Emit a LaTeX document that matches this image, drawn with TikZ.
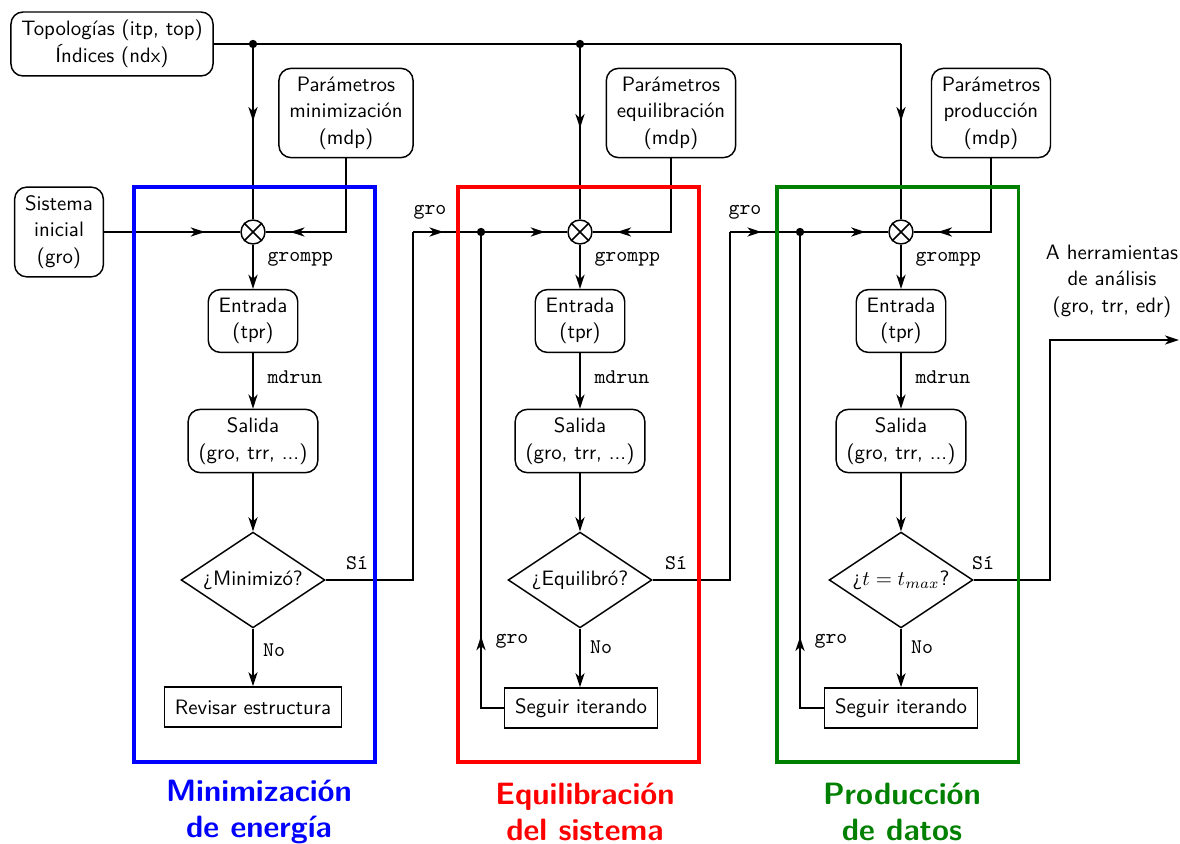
\documentclass[tikz,border=0pt]{standalone}
\usepackage{fontspec}
\usetikzlibrary{shapes.geometric,arrows.meta,decorations.markings}
\renewcommand{\familydefault}{\sfdefault}
\definecolor{dgreen}{RGB}{0,128,0}
\tikzset{
  tip/.tip={Stealth[length=6.8pt,width=4.4pt,inset=2pt]},
  conn/.style={line width=0.7pt},
  rbox/.style={draw,line width=0.7pt,rounded corners=5.8pt,align=center,inner xsep=5pt,inner ysep=4pt},
  sbox/.style={draw,line width=0.7pt,rectangle,inner xsep=5pt,minimum height=19.2pt},
  sumx/.style={draw,line width=0.7pt,circle,minimum size=11.5pt,inner sep=0pt},
  dec/.style={draw,line width=0.7pt,diamond,aspect=1.5,minimum width=69pt,minimum height=46pt,inner sep=0pt},
  lbl/.style={font=\ttfamily,inner sep=1pt},
  frame/.style={line width=1.45pt},
  ttl/.style={font=\bfseries\fontsize{14.8}{17.4}\selectfont,align=center},
  arrowat/.style={postaction={decorate,decoration={markings,mark=at position #1 with {\arrow{tip}}}}},
  dot/.style={fill,circle,inner sep=0pt,minimum size=4pt},
  every node/.append style={font=\fontsize{10}{12.7}\selectfont},
}
\begin{document}
\begin{tikzpicture}[x=0.48pt,y=-0.48pt]
\useasboundingbox (0,0) rectangle (1180,844);
% top nodes
\node[rbox] (topo) at (112,44) {Topologías (itp, top)\\Índices (ndx)};
\node[rbox] (p1) at (346,113) {Parámetros\\minimización\\(mdp)};
\node[rbox] (p2) at (671,113) {Parámetros\\equilibración\\(mdp)};
\node[rbox] (p3) at (991,113) {Parámetros\\producción\\(mdp)};
\node[rbox] (sis) at (59,232) {Sistema\\inicial\\(gro)};
% summing junctions
\foreach \n/\x in {s1/253,s2/580,s3/901}{
  \node[sumx] (\n) at (\x,232) {};
  \draw[line width=0.7pt] (\n.north west) -- (\n.south east) (\n.north east) -- (\n.south west);
}
% column 1
\node[rbox] (e1) at (253,321) {Entrada\\(tpr)};
\node[rbox] (o1) at (253,441) {Salida\\(gro, trr, ...)};
\node[dec] (d1) at (253,580) {¿Minimizó?};
\node[sbox] (r1) at (253,707) {Revisar estructura};
% column 2
\node[rbox] (e2) at (580,321) {Entrada\\(tpr)};
\node[rbox] (o2) at (580,441) {Salida\\(gro, trr, ...)};
\node[dec] (d2) at (580,580) {¿Equilibró?};
\node[sbox] (g2) at (581,708) {Seguir iterando};
% column 3
\node[rbox] (e3) at (901,321) {Entrada\\(tpr)};
\node[rbox] (o3) at (901,441) {Salida\\(gro, trr, ...)};
\node[dec] (d3) at (901,580) {¿$t=t_{max}$?};
\node[sbox] (g3) at (901,708) {Seguir iterando};
% output text
\node[align=center] (outtxt) at (1112,281) {A herramientas\\de análisis\\(gro, trr, edr)};
% coordinates
\coordinate (j1) at (253,44);
\coordinate (j2) at (580,44);
\coordinate (c3) at (901,44);
\coordinate (k1) at (413,232);
\coordinate (b2) at (481,232);
\coordinate (k2) at (730,232);
\coordinate (b3) at (800,232);
\coordinate (k3) at (1050,340);
\coordinate (out) at (1179,340);
% top bus
\draw[conn] (topo.east) -- (j1) -- (j2) -- (c3);
\node[dot] (dj1) at (j1) {};
\node[dot] (dj2) at (j2) {};
\draw[conn,arrowat=0.44] (j1) -- (s1.north);
\draw[conn,arrowat=0.48] (j2) -- (s2.north);
\draw[conn,arrowat=0.44] (c3) -- (s3.north);
% parameter inputs
\draw[conn,arrowat=0.84] (p1.south) |- (s1.east);
\draw[conn,arrowat=0.84] (p2.south) |- (s2.east);
\draw[conn,arrowat=0.84] (p3.south) |- (s3.east);
\draw[conn,arrowat=0.74] (sis.east) -- (s1.west);
% vertical flows
\foreach \c in {1,2,3}{
  \draw[conn,-tip] (s\c) -- (e\c);
  \draw[conn,-tip] (e\c) -- (o\c);
  \draw[conn,-tip] (o\c) -- (d\c);
}
\draw[conn,-tip] (d1) -- (r1);
\draw[conn,-tip] (d2.south) -- (d2.south |- g2.north);
\draw[conn,-tip] (d3) -- (g3);
% stage links
\draw[conn] (d1.east) -| (k1);
\draw[conn,arrowat=0.45] (k1) -- (b2);
\draw[conn,arrowat=0.74] (b2) -- (s2.west);
\node[dot] (db2) at (b2) {};
\draw[conn,arrowat=0.19] (g2.west) -| (b2);
\draw[conn] (d2.east) -| (k2);
\draw[conn,arrowat=0.45] (k2) -- (b3);
\draw[conn,arrowat=0.74] (b3) -- (s3.west);
\node[dot] (db3) at (b3) {};
\draw[conn,arrowat=0.19] (g3.west) -| (b3);
\draw[conn,-tip] (d3.east) -| (k3) -- (out);
% labels
\foreach \x/\n in {265/1,592/2,913/3}{
  \node[lbl,anchor=west] (gp\n) at (\x,259) {grompp};
  \node[lbl,anchor=west] (md\n) at (\x,377) {mdrun};
}
\node[lbl] (si1) at (357,563) {Sí};
\node[lbl] (si2) at (676,563) {Sí};
\node[lbl] (si3) at (983,563) {Sí};
\node[lbl] (no1) at (274,650) {No};
\node[lbl] (no2) at (601,647) {No};
\node[lbl] (no3) at (922,647) {No};
\node[lbl] (gr1) at (430,212) {gro};
\node[lbl] (gr2) at (745,212) {gro};
\node[lbl] (gr3) at (512,641) {gro};
\node[lbl] (gr4) at (831,641) {gro};
% frames
\draw[frame,blue] (134,187) rectangle (375,762);
\draw[frame,red] (458,187) rectangle (699,762);
\draw[frame,dgreen] (777,187) rectangle (1018,762);
% titles
\node[ttl,text=blue] (t1) at (259,812) {Minimización\\de energía};
\node[ttl,text=red] (t2) at (585,812) {Equilibración\\del sistema};
\node[ttl,text=dgreen] (t3) at (902,812) {Producción\\de datos};
\end{tikzpicture}
\end{document}
